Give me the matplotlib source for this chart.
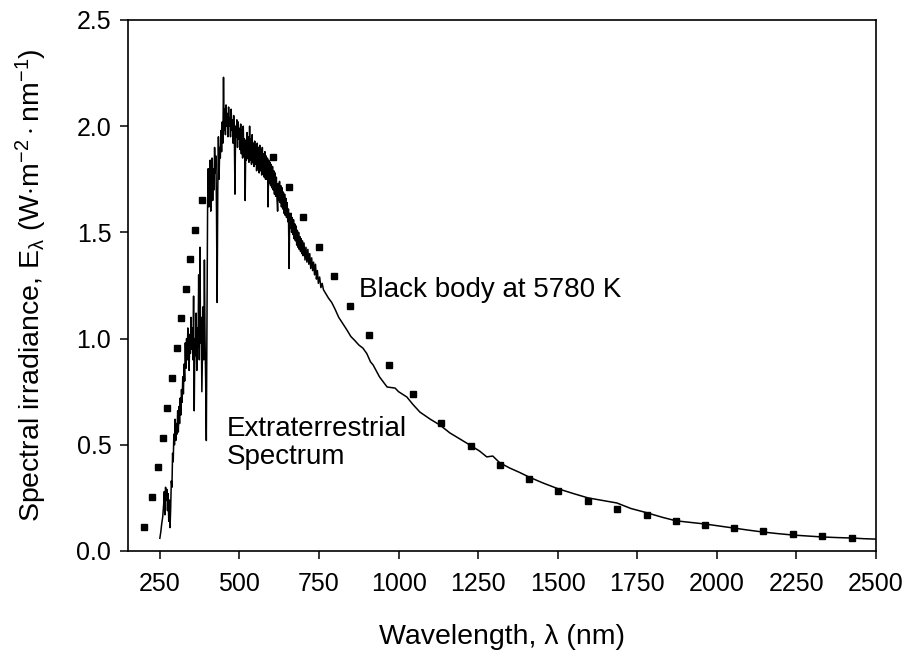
import matplotlib
matplotlib.use("Agg")
import matplotlib.pyplot as plt
from matplotlib.ticker import FormatStrFormatter

plt.rcParams["font.family"] = ["Liberation Sans", "DejaVu Sans"]
plt.rcParams["mathtext.fontset"] = "custom"
plt.rcParams["mathtext.rm"] = "Liberation Sans"
plt.rcParams["mathtext.it"] = "Liberation Sans"

# extraterrestrial solar spectrum (nm, W m^-2 nm^-1)
spec_nm = [
    250, 253, 256, 259, 262, 264, 266, 268, 270, 272, 274, 276, 278, 280, 282, 284,
    286, 288, 290, 292, 294, 296, 298, 300, 302, 304, 306, 308, 310, 312, 314, 316,
    318, 320, 322, 324, 326, 328, 330, 332, 334, 336, 338, 340, 342, 344, 346, 348,
    350, 352, 354, 356, 358, 360, 362, 364, 366, 368, 370, 372, 374, 376, 378, 380,
    382, 384, 386, 388, 390, 392, 394, 396, 398, 400, 402, 404, 406, 408, 410, 412,
    414, 416, 418, 420, 422, 424, 426, 428, 430, 432, 434, 436, 438, 440, 442, 444,
    446, 448, 450, 452, 454, 456, 458, 460, 462, 464, 466, 468, 470, 472, 474, 476,
    478, 480, 482, 484, 486, 488, 490, 492, 494, 496, 498,
    500, 502, 504, 506, 508, 510, 512, 514, 516, 518, 520, 522, 524, 526, 528, 530,
    532, 534, 536, 538, 540, 542, 544, 546, 548, 550, 552, 554, 556, 558, 560, 562,
    564, 566, 568, 570, 572, 574, 576, 578, 580, 582, 584, 586, 588, 590, 592, 594,
    596, 598, 600, 602, 604, 606, 608, 610, 612, 614, 616, 618, 620, 622, 624, 626,
    628, 630, 632, 634, 636, 638, 640, 642, 644, 646, 648, 650, 652, 654, 656, 658,
    660, 662, 664, 666, 668, 670, 672, 674, 676, 678, 680, 682, 684, 686, 688, 690,
    692, 694, 696, 698, 700, 703, 706, 709, 712, 715, 718, 721, 724, 727, 730, 733,
    736, 739, 742, 745, 748, 752, 756, 760, 764, 772, 780, 790, 800, 812, 825,
    838, 850, 863, 875, 888, 900, 912, 920, 940, 964, 989, 1000, 1026, 1045, 1067,
    1100, 1130, 1161, 1190, 1224, 1255, 1277, 1296, 1318, 1350, 1380, 1410, 1454,
    1501, 1550, 1595, 1640, 1686, 1730, 1780, 1830, 1872, 1920, 1963, 2010, 2054,
    2100, 2146, 2190, 2239, 2290, 2331, 2380, 2425, 2460, 2497,
]
spec_irr = [
    0.06, 0.09, 0.13, 0.16, 0.22, 0.28, 0.17, 0.30, 0.24, 0.29, 0.19, 0.27, 0.14, 0.24, 0.11, 0.20,
    0.33, 0.30, 0.46, 0.42, 0.55, 0.50, 0.62, 0.52, 0.60, 0.55, 0.66, 0.56, 0.68, 0.60, 0.72, 0.64,
    0.76, 0.70, 0.82, 0.74, 0.88, 0.80, 0.98, 0.86, 1.00, 0.90, 1.05, 0.92, 0.85, 1.02, 0.93, 1.10,
    0.95, 1.05, 0.90, 1.20, 0.66, 1.00, 0.92, 1.12, 0.85, 1.05, 0.96, 1.30, 0.90, 1.43, 0.98, 1.10,
    0.75, 0.95, 1.15, 0.90, 1.37, 1.00, 0.80, 0.52, 1.10, 1.62, 1.80, 1.62, 1.70, 1.84, 1.60, 1.75,
    1.85, 1.65, 1.80, 1.70, 1.90, 1.78, 1.86, 1.60, 1.17, 1.70, 1.95, 1.75, 1.90, 1.85, 1.98, 1.88,
    2.02, 1.92, 2.23, 1.98, 2.08, 1.96, 2.10, 2.00, 2.06, 1.95, 2.09, 2.00, 2.04, 1.95, 2.08, 1.98,
    2.03, 1.92, 2.05, 1.96, 1.68, 2.00, 1.95, 2.03, 1.90, 2.02, 1.94,
    1.99, 1.89, 2.01, 1.87, 1.98, 1.85, 2.00, 1.86, 1.94, 1.65, 1.93, 1.84, 1.97, 1.85, 1.95, 1.83,
    2.00, 1.84, 1.94, 1.82, 1.96, 1.83, 1.92, 1.81, 1.93, 1.82, 1.91, 1.79, 1.92, 1.80, 1.90, 1.78,
    1.91, 1.79, 1.89, 1.77, 1.90, 1.78, 1.87, 1.76, 1.88, 1.75, 1.86, 1.75, 1.85, 1.62, 1.84, 1.73,
    1.83, 1.72, 1.82, 1.71, 1.81, 1.70, 1.79, 1.68, 1.78, 1.67, 1.76, 1.66, 1.60, 1.73, 1.65, 1.74,
    1.64, 1.72, 1.62, 1.71, 1.61, 1.69, 1.59, 1.68, 1.58, 1.66, 1.57, 1.64, 1.55, 1.61, 1.33, 1.59,
    1.52, 1.59, 1.50, 1.57, 1.49, 1.56, 1.47, 1.54, 1.46, 1.53, 1.44, 1.51, 1.43, 1.50, 1.42, 1.48,
    1.41, 1.47, 1.40, 1.46, 1.39, 1.45, 1.37, 1.43, 1.36, 1.42, 1.35, 1.40, 1.33, 1.38, 1.32, 1.36,
    1.30, 1.35, 1.28, 1.32, 1.26, 1.29, 1.24, 1.26, 1.23, 1.21, 1.19, 1.17, 1.14, 1.10, 1.07,
    1.04, 1.01, 0.99, 0.97, 0.955, 0.93, 0.89, 0.876, 0.82, 0.772, 0.767, 0.75, 0.725, 0.69, 0.654,
    0.62, 0.593, 0.556, 0.53, 0.499, 0.47, 0.443, 0.447, 0.415, 0.39, 0.37, 0.348, 0.32,
    0.293, 0.27, 0.25, 0.238, 0.226, 0.20, 0.18, 0.158, 0.142, 0.134, 0.127, 0.117, 0.108,
    0.098, 0.089, 0.082, 0.075, 0.07, 0.066, 0.063, 0.061, 0.058, 0.056,
]

# black body at 5780 K, scaled to the mean Earth-Sun distance
bb_nm = [
    200, 225, 244, 259, 274, 289, 303, 318, 331, 345, 362, 381,
    604, 656, 700, 750, 798, 848, 907, 970, 1046, 1132, 1227, 1318, 1411,
    1502, 1594, 1687, 1780, 1872, 1963, 2054, 2146, 2238, 2331, 2423,
]
bb_irr = [
    0.114, 0.256, 0.394, 0.533, 0.675, 0.816, 0.954, 1.097, 1.235, 1.373, 1.511, 1.653,
    1.856, 1.712, 1.571, 1.433, 1.295, 1.155, 1.016, 0.876, 0.739, 0.601, 0.496, 0.405, 0.338,
    0.281, 0.237, 0.196, 0.168, 0.141, 0.122, 0.107, 0.093, 0.081, 0.071, 0.061,
]

x_ticks = [250, 500, 750, 1000, 1250, 1500, 1750, 2000, 2250, 2500]
y_ticks = [0.0, 0.5, 1.0, 1.5, 2.0, 2.5]

fig = plt.figure(figsize=(9.06, 6.55), dpi=100)
ax = fig.add_axes([0.1413, 0.1588, 0.8256, 0.8107])

ax.plot(spec_nm, spec_irr, color="black", linewidth=1.1)
ax.plot(bb_nm, bb_irr, linestyle="none", marker="s", markersize=4.2,
        color="black")

ax.set_xlim(150, 2500)
ax.set_ylim(0, 2.5)
ax.set_xticks(x_ticks)
ax.set_yticks(y_ticks)
ax.yaxis.set_major_formatter(FormatStrFormatter("%.1f"))
ax.tick_params(direction="out", length=6, width=1.1, labelsize=18)
ax.tick_params(axis="x", pad=9)
ax.tick_params(axis="y", pad=6)
for side in ax.spines.values():
    side.set_linewidth(1.2)

ax.set_xlabel("Wavelength, \u03bb (nm)", fontsize=20.5, labelpad=20)
ax.set_ylabel(r"Spectral irradiance, E$_\lambda$ (W$\cdot$m$^{-2}\cdot$nm$^{-1}$)",
              fontsize=20.5, labelpad=20)

ax.text(876, 1.23, "Black body at 5780 K", fontsize=20, ha="left", va="center")
ax.text(461, 0.51, "Extraterrestrial\nSpectrum", fontsize=20, ha="left",
        va="center", linespacing=1.1)

fig.savefig("out.png", dpi=100)
